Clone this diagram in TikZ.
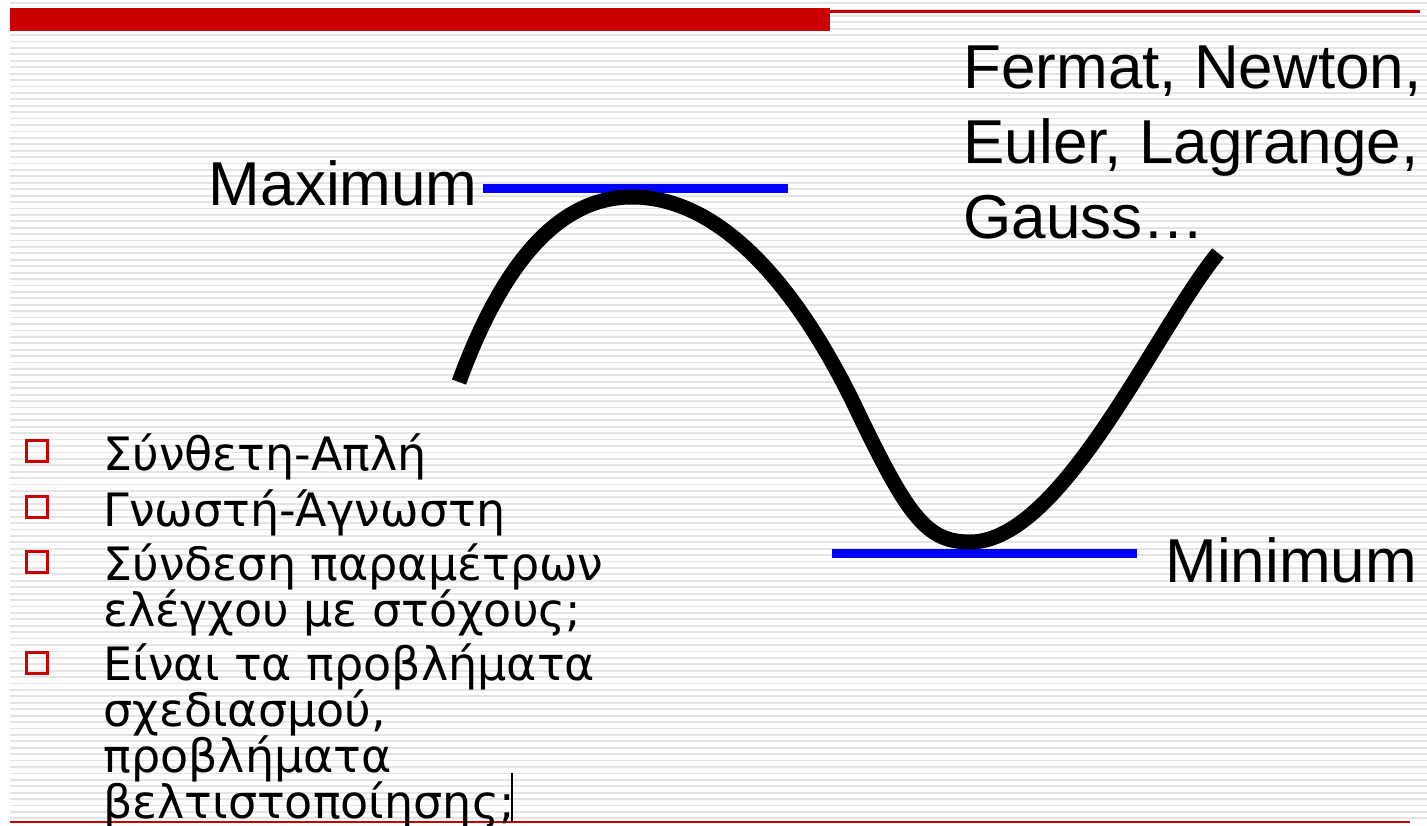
\documentclass[tikz,border=0pt]{standalone}
\usepackage{fontspec}
\setmainfont{Liberation Sans}
\newfontfamily\greekfont{DejaVu Sans}
\usetikzlibrary{positioning}
\definecolor{slidered}{HTML}{CC0000}
\definecolor{stripegray}{HTML}{E4E4E4}
\newcommand{\itemfont}{\greekfont\fontsize{23}{23}\selectfont\lineskiplimit-30pt\relax}
\tikzset{
	bigtext/.style={font=\fontsize{31}{37.5}\selectfont, inner sep=0pt, align=left}
}
\tikzset{
	itemtext/.style={font=\itemfont, inner sep=0pt, align=left, anchor=base west},
	itembox/.style={draw=slidered, line width=1.5pt, minimum size=10.5pt, inner sep=0pt},
	tangent/.style={draw=blue, line width=4.5pt},
	curve/.style={line width=7.5pt}
}

\begin{document}
\begin{tikzpicture}[x=0.5pt, y=-0.5pt]
      \useasboundingbox (0,0) rectangle (1427,825);
      % striped slide background
      \foreach \k in {0,...,127}
        \draw[stripegray, line width=0.9pt] (10,3+6.42*\k) -- (1427,3+6.42*\k);
      \fill[slidered] (10,8) rectangle (830,31);
      \draw[slidered, line width=1.5pt] (830,11) -- (1420,11);
      \draw[slidered, line width=1.3pt] (10,822) -- (1410,822);

      % multi-line nodes sit on the baseline of their last line
      \node[bigtext, anchor=base west] (names) at (963,238) {Fermat, Newton,\\Euler, Lagrange,\\Gauss…};
      \node[bigtext, anchor=base east] (maxlbl) at (478,205) {Maximum};
      \node[bigtext, anchor=base west] (minlbl) at (1165,582) {Minimum};

      \draw[tangent] (483,188) -- (788,188);
      \draw[tangent] (832,553) -- (1137,553);
      \draw[curve] (459,382) .. controls (500,270) and (555,197) .. (632,197)
        .. controls (720,197) and (795,285) .. (852,400)
        .. controls (907,515) and (925,542) .. (970,542)
        .. controls (1062,542) and (1155,330) .. (1218,253);

      \node[itembox] (box1) at (37,451) {};
      \node[itembox] (box2) at (37,507) {};
      \node[itembox] (box3) at (37,562) {};
      \node[itembox] (box4) at (37,663) {};
      \node[itemtext] (item1) at (103,470) {Σύνθετη-Απλή};
      \node[itemtext] (item2) at (103,526) {Γνωστή-Άγνωστη};
      \node[itemtext] (item3) at (103,626) {Σύνδεση παραμέτρων\\ελέγχου με στόχους;};
      \node[itemtext] (item4) at (103,818) {Είναι τα προβλήματα\\σχεδιασμού,\\προβλήματα\\βελτιστοποίησης;};
      \draw[line width=0.6pt] (512,773) -- (512,822);
    \end{tikzpicture}
\end{document}
